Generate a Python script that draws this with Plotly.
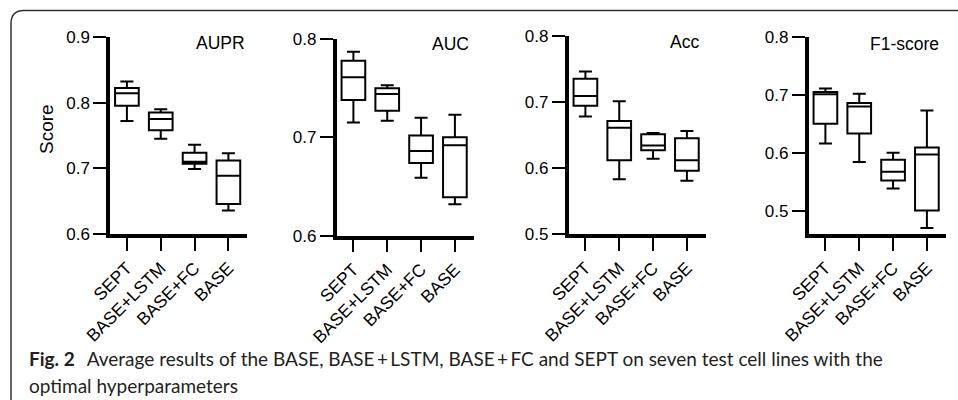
import plotly.graph_objects as go

W, H = 958, 400

categories = ["SEPT", "BASE+LSTM", "BASE+FC", "BASE"]

aupr_min = [0.772, 0.745, 0.699, 0.636]
aupr_q1 = [0.795, 0.758, 0.707, 0.646]
aupr_med = [0.814, 0.775, 0.710, 0.689]
aupr_q3 = [0.822, 0.785, 0.724, 0.712]
aupr_max = [0.832, 0.790, 0.736, 0.723]

auc_min = [0.715, 0.717, 0.659, 0.632]
auc_q1 = [0.738, 0.727, 0.674, 0.639]
auc_med = [0.761, 0.744, 0.686, 0.692]
auc_q3 = [0.778, 0.750, 0.702, 0.700]
auc_max = [0.787, 0.753, 0.720, 0.723]

acc_min = [0.678, 0.583, 0.614, 0.581]
acc_q1 = [0.694, 0.612, 0.627, 0.596]
acc_med = [0.709, 0.661, 0.634, 0.612]
acc_q3 = [0.735, 0.671, 0.651, 0.645]
acc_max = [0.746, 0.701, 0.653, 0.656]

f1_min = [0.616, 0.584, 0.538, 0.470]
f1_q1 = [0.650, 0.633, 0.552, 0.500]
f1_med = [0.701, 0.680, 0.567, 0.597]
f1_q3 = [0.705, 0.686, 0.588, 0.609]
f1_max = [0.711, 0.702, 0.600, 0.673]

panel_titles = ["AUPR", "AUC", "Acc", "F1-score"]
y_ranges = [[0.6, 0.9], [0.6, 0.8], [0.5, 0.8], [0.459, 0.8]]
y_ticks = [[0.6, 0.7, 0.8, 0.9], [0.6, 0.7, 0.8], [0.5, 0.6, 0.7, 0.8], [0.5, 0.6, 0.7, 0.8]]

panels = [
    (aupr_min, aupr_q1, aupr_med, aupr_q3, aupr_max),
    (auc_min, auc_q1, auc_med, auc_q3, auc_max),
    (acc_min, acc_q1, acc_med, acc_q3, acc_max),
    (f1_min, f1_q1, f1_med, f1_q3, f1_max),
]

# pixel geometry of each panel: (x_left, y_top, y_bottom)
geom = [(110, 36.7, 234.3), (336.5, 39.0, 235.7), (568.5, 35.7, 234.3), (808.5, 37.0, 234.3)]
panel_w = 137
title_right = [247, 471, 701, 941]
title_y = [43, 44, 42, 44]

FONT = "Liberation Sans, Arial, sans-serif"
CAP_FONT = "Lato, Liberation Sans, sans-serif"

def px(x):
    return x / W

def py(y):
    return 1 - y / H

fig = go.Figure()
layout = dict(
    width=W, height=H, margin=dict(l=0, r=0, t=0, b=0, autoexpand=False),
    paper_bgcolor="white", plot_bgcolor="white", showlegend=False,
    font=dict(family=FONT, color="black"),
)

annotations = []
for i, (vals, (xl, yt, yb)) in enumerate(zip(panels, geom)):
    mn, q1, med, q3, mx = vals
    n = "" if i == 0 else str(i + 1)
    fig.add_trace(go.Box(
        x=categories, q1=q1, median=med, q3=q3, lowerfence=mn, upperfence=mx,
        width=0.7, whiskerwidth=0.55,
        line=dict(color="black", width=2), fillcolor="rgba(0,0,0,0)",
        boxpoints=False, hoverinfo="skip",
        xaxis="x" + n, yaxis="y" + n,
    ))
    layout["xaxis" + n] = dict(
        domain=[px(xl), px(xl + panel_w)], anchor="y" + n,
        type="category", range=[-0.5, 3.55], automargin=False,
        showline=True, linewidth=3.5, linecolor="black",
        ticks="outside", ticklen=13, tickwidth=2, tickcolor="black",
        tickangle=-45, tickfont=dict(size=17.5, family=FONT, color="black"),
        showgrid=False, zeroline=False, fixedrange=True,
    )
    layout["yaxis" + n] = dict(
        domain=[py(yb), py(yt)], anchor="x" + n,
        range=y_ranges[i], tickvals=y_ticks[i], automargin=False,
        ticktext=[f"{v:.1f}" for v in y_ticks[i]],
        showline=True, linewidth=3.5, linecolor="black",
        ticks="outside", ticklen=13, tickwidth=2, tickcolor="black",
        tickfont=dict(size=17, family=FONT, color="black"),
        showgrid=False, zeroline=False, fixedrange=True,
    )
    annotations.append(dict(
        text=panel_titles[i], xref="paper", yref="paper",
        x=px(title_right[i]), y=py(title_y[i]), xanchor="right", yanchor="middle",
        showarrow=False, font=dict(size=17.5, family=FONT, color="black"),
    ))

annotations.append(dict(
    text="Score", xref="paper", yref="paper", x=px(46), y=py(129),
    textangle=-90, xanchor="center", yanchor="middle", showarrow=False,
    font=dict(size=19, family=FONT, color="black"),
))

annotations.append(dict(
    text="<b>Fig. 2</b>\u2002\u2009Average results of the BASE, BASE\u2009+\u2009LSTM, BASE\u2009+\u2009FC and SEPT on seven test cell lines with the",
    xref="paper", yref="paper", x=px(27), y=py(358), xanchor="left", yanchor="middle",
    showarrow=False, font=dict(size=19, family=CAP_FONT, color="#231f20"),
))
annotations.append(dict(
    text="optimal hyperparameters",
    xref="paper", yref="paper", x=px(27), y=py(385), xanchor="left", yanchor="middle",
    showarrow=False, font=dict(size=19, family=CAP_FONT, color="#231f20"),
))

x0 = px(11)
ytop = py(10.5)
rx, ry = 13 / W, 13 / H
path = (f"M {x0} -0.1 L {x0} {ytop - ry} Q {x0} {ytop} {x0 + rx} {ytop} L 1.1 {ytop}")
layout["shapes"] = [dict(type="path", path=path, xref="paper", yref="paper",
                         line=dict(color="#333333", width=1.5))]
layout["annotations"] = annotations

fig.update_layout(**layout)
fig.write_html("out.html", config={"displayModeBar": False},
               post_script="document.body.style.margin='0px';")
